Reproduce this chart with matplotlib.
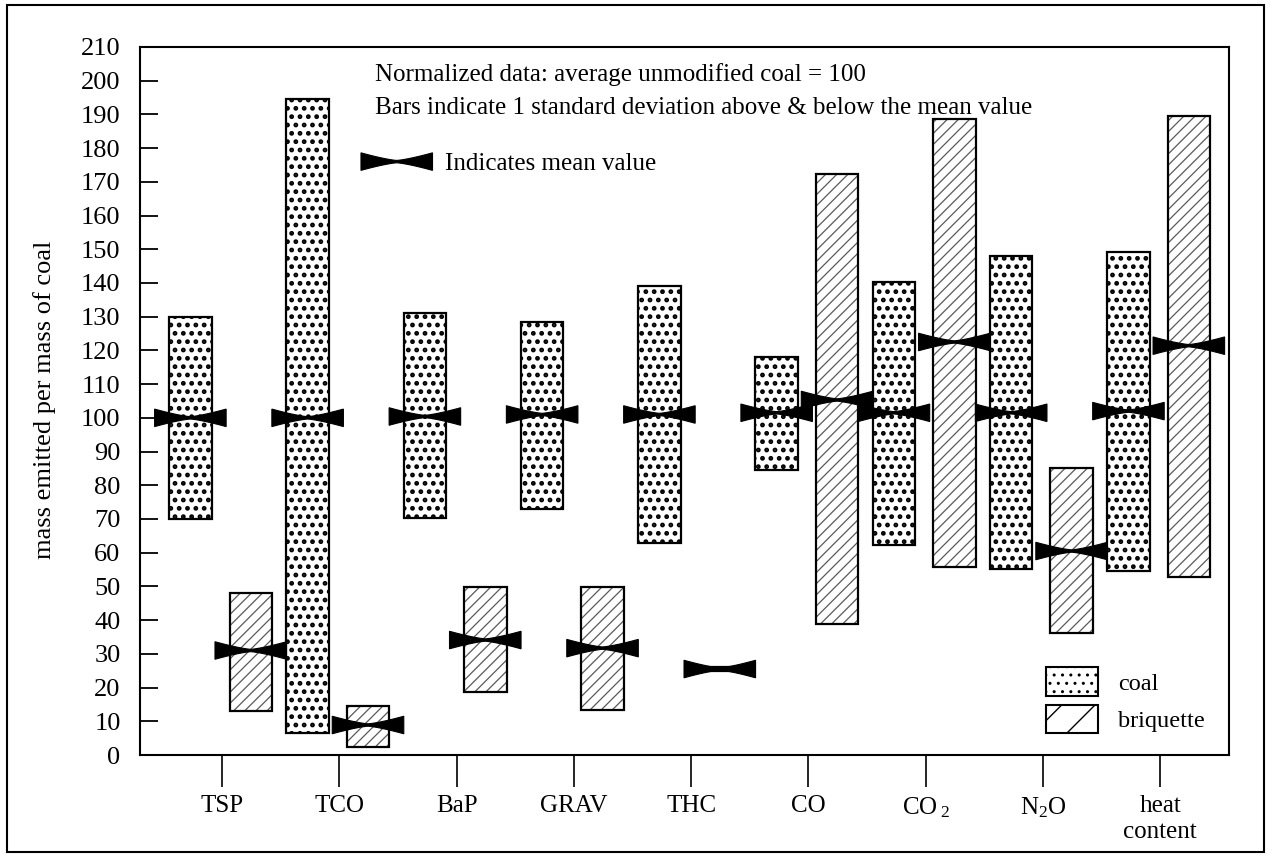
import matplotlib
matplotlib.use("Agg")
import matplotlib.pyplot as plt
from matplotlib.patches import Polygon, Rectangle, Patch
import numpy as np

# ---- data (normalized: average unmodified coal = 100) ----
categories = ["TSP", "TCO", "BaP", "GRAV", "THC", "CO",
              r"CO$\,_2$", r"N$_2$O", "heat\ncontent"]
coal_low = [70.0, 6.4, 70.2, 73.0, 63.0, 84.6, 62.3, 55.2, 54.5]
coal_high = [130.0, 194.5, 131.0, 128.5, 139.2, 118.0, 140.4, 148.0, 149.2]
coal_mean = [100.0, 100.0, 100.4, 101.0, 101.0, 101.5, 101.5, 101.5, 102.0]
briq_low = [13.1, 2.3, 18.8, 13.4, 25.0, 38.9, 55.9, 36.3, 52.7]
briq_high = [48.2, 14.6, 49.8, 49.8, 26.0, 172.4, 188.6, 85.0, 189.4]
briq_mean = [31.0, 8.9, 34.1, 31.7, 25.5, 105.3, 122.5, 60.5, 121.4]
ytick_values = list(range(0, 211, 10))

plt.rcParams["font.family"] = ["Liberation Serif", "DejaVu Serif"]
plt.rcParams["mathtext.fontset"] = "custom"
plt.rcParams["mathtext.rm"] = "Liberation Serif"
plt.rcParams["mathtext.it"] = "Liberation Serif"

fig = plt.figure(figsize=(12.71, 8.57), dpi=100)
ax = fig.add_axes([0.1102, 0.1190, 0.8568, 0.8262])

x = np.arange(len(categories))
bar_w = 0.362
coal_off = -0.27
briq_off = 0.245

coal_low_a = np.array(coal_low)
coal_high_a = np.array(coal_high)
briq_low_a = np.array(briq_low)
briq_high_a = np.array(briq_high)

# coal: dotted fill
with plt.rc_context({"hatch.linewidth": 2.2}):
    ax.bar(x + coal_off, coal_high_a - coal_low_a, bottom=coal_low_a,
           width=bar_w, facecolor="white", edgecolor="black", hatch="..",
           linewidth=1.6, zorder=2)
# briquette: fine diagonal hatch in grey, then a black outline
with plt.rc_context({"hatch.linewidth": 0.9}):
    ax.bar(x + briq_off, briq_high_a - briq_low_a, bottom=briq_low_a,
           width=bar_w, facecolor="white", edgecolor="#5a5a5a", hatch="///",
           linewidth=0, zorder=2)
ax.bar(x + briq_off, briq_high_a - briq_low_a, bottom=briq_low_a, width=bar_w,
       facecolor="none", edgecolor="black", linewidth=1.6, zorder=3)


def bowtie(cx, cy, w=0.61, h=5.2, pinch=0.35):
    t = np.linspace(-1, 1, 41)
    top = cy + pinch + (h / 2 - pinch) * np.abs(t) ** 1.3
    bot = cy - pinch - (h / 2 - pinch) * np.abs(t) ** 1.3
    xs = cx + t * w / 2
    verts = np.concatenate([np.column_stack([xs, top]),
                            np.column_stack([xs[::-1], bot[::-1]])])
    ax.add_patch(Polygon(verts, closed=True, facecolor="black",
                         edgecolor="black", linewidth=0.8, zorder=5))


for xi, m in zip(x + coal_off, coal_mean):
    bowtie(xi, m)
for xi, m in zip(x + briq_off, briq_mean):
    bowtie(xi, m)

ax.set_xlim(-0.699, 8.588)
ax.set_ylim(0, 210)
ax.set_yticks(ytick_values)
ax.set_yticklabels([str(v) for v in ytick_values])
ax.set_xticks(x)
ax.set_xticklabels(categories)

ax.tick_params(axis="y", direction="in", length=13, width=1.3, pad=14,
               labelsize=19)
ax.tick_params(axis="x", direction="out", length=23, width=1.2, pad=6,
               labelsize=18)
for s in ax.spines.values():
    s.set_linewidth(1.5)

# explanatory notes
ax.text(0.216, 0.952, "Normalized data: average unmodified coal = 100",
        transform=ax.transAxes, fontsize=18, va="baseline", ha="left")
ax.text(0.216, 0.905,
        "Bars indicate 1 standard deviation above & below the mean value",
        transform=ax.transAxes, fontsize=18, va="baseline", ha="left")
bowtie(1.49, 176.0)
ax.text(1.90, 173.6, "Indicates mean value", fontsize=18, va="baseline",
        ha="left")

# legend
handles = [Patch(facecolor="white", edgecolor="black", hatch="..",
                 linewidth=1.5, label="coal"),
           Patch(facecolor="white", edgecolor="#5a5a5a", hatch="/",
                 linewidth=1.5, label="briquette")]
leg = ax.legend(handles=handles, loc="upper left",
                bbox_to_anchor=(0.832, 0.124), frameon=False, fontsize=17.5,
                handlelength=2.15, handleheight=1.45, handletextpad=0.8,
                labelspacing=0.35, borderpad=0, borderaxespad=0)
for p in leg.get_patches():
    p.set_edgecolor("black")

fig.text(45 / 1271, 1 - 400 / 857, "mass emitted per mass of coal",
         rotation=90, va="center", ha="center", fontsize=19)

# outer frame around the whole figure
fig.patches.append(Rectangle((7 / 1271, 5 / 857), 1257 / 1271, 847 / 857,
                             transform=fig.transFigure, fill=False,
                             edgecolor="black", linewidth=1.5))

fig.savefig("out.png", dpi=100)
